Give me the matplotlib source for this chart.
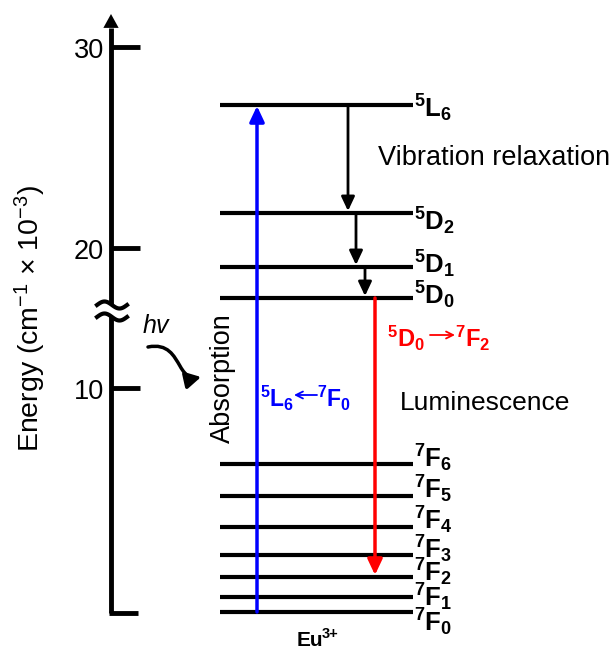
import matplotlib
matplotlib.use("Agg")
import matplotlib.pyplot as plt
import numpy as np
from matplotlib.path import Path
from matplotlib.patches import FancyArrowPatch, Polygon

plt.rcParams['font.family'] = ['Liberation Sans', 'DejaVu Sans']
plt.rcParams['mathtext.fontset'] = 'custom'
plt.rcParams['mathtext.rm'] = 'Liberation Sans'
plt.rcParams['mathtext.it'] = 'Liberation Sans:italic'
plt.rcParams['mathtext.bf'] = 'Liberation Sans:bold'

# ---- data (schematic diagram units, y grows downward) ----
tick_labels = ['30', '20', '10']
tick_pos = [47, 248, 388]
level_terms = ['7F0', '7F1', '7F2', '7F3', '7F4', '7F5', '7F6',
               '5D0', '5D1', '5D2', '5L6']
level_pos = [612, 597, 577, 555, 527, 496, 464, 298, 267, 213, 105]
label_offsets = [10, 0, -5, -6, -7, -7, -6, -3, -3, 8, 3]
relax_x = [348, 356, 365]
relax_from = ['5L6', '5D2', '5D1']
relax_to = ['5D2', '5D1', '5D0']

lv = dict(zip(level_terms, level_pos))
HEAD = '-|>,head_length=0.85,head_width=0.4'


def term_tex(t):
    return r'$^{\mathbf{%s}}\mathbf{%s}_{\mathbf{%s}}$' % (t[0], t[1], t[2])


fig = plt.figure(figsize=(6.13, 6.51), dpi=100)
ax = fig.add_axes([0, 0, 1, 1])
ax.set_xlim(0, 613)
ax.set_ylim(651, 0)
ax.axis('off')

# ---- energy axis ----
ax.plot([111, 111], [613, 28], color='black', lw=3.5, solid_capstyle='butt')
ax.plot([109.3, 138], [613, 613], color='black', lw=3.5, solid_capstyle='butt')
ax.add_patch(FancyArrowPatch((111, 30), (111, 14), arrowstyle='-|>,head_length=1.0,head_width=0.55',
                             mutation_scale=10, color='black', lw=0, shrinkA=0, shrinkB=0))
for lab, y in zip(tick_labels, tick_pos):
    ax.plot([111, 140], [y, y], color='black', lw=3.5, solid_capstyle='butt')
    ax.text(104, y + 4, lab, ha='right', va='center', fontsize=19.5)

# axis break
xb = np.linspace(97, 127, 60)
w = -3.5 * np.sin((xb - 97) / 30 * 2 * np.pi)
y1 = 305 + w
y2 = 317 + w
ax.add_patch(Polygon(np.column_stack([np.r_[xb, xb[::-1]], np.r_[y1, y2[::-1]]]),
                     closed=True, facecolor='white', edgecolor='none', zorder=3))
ax.plot(xb, y1, color='black', lw=3, zorder=4)
ax.plot(xb, y2, color='black', lw=3, zorder=4)

ax.text(30, 318, r'Energy (cm$^{-1}$ $\times$ 10$^{-3}$)', rotation=90,
        ha='center', va='center', fontsize=20.5)

# ---- energy levels ----
for t, y, off in zip(level_terms, level_pos, label_offsets):
    ax.plot([220, 413], [y, y], color='black', lw=3, solid_capstyle='butt')
    ax.text(414, y + off, term_tex(t), ha='left', va='center', fontsize=18.5)

# absorption (blue)
ax.add_patch(FancyArrowPatch((257, lv['7F0']), (257, lv['5L6'] + 1),
                             arrowstyle=HEAD, mutation_scale=11, color='#0000ff', lw=2.5,
                             shrinkA=0, shrinkB=0, zorder=5))
# relaxation (black)
for x, a, b in zip(relax_x, relax_from, relax_to):
    ax.add_patch(FancyArrowPatch((x, lv[a]), (x, lv[b] - 2),
                                 arrowstyle=HEAD, mutation_scale=10, color='black', lw=2,
                                 shrinkA=0, shrinkB=0, zorder=5))
# luminescence (red)
ax.add_patch(FancyArrowPatch((375, lv['5D0']), (375, lv['7F2'] - 2),
                             arrowstyle=HEAD, mutation_scale=11, color='#ff0000', lw=2.5,
                             shrinkA=0, shrinkB=0, zorder=5))

# ---- texts ----
ax.text(378, 158, 'Vibration relaxation', ha='left', va='center', fontsize=19.5)
ax.text(400, 403, 'Luminescence', ha='left', va='center', fontsize=19)
ax.text(223, 378, 'Absorption', rotation=90, ha='center', va='center', fontsize=19.5)
ax.text(142, 326, r'$\it{hv}$', ha='left', va='center', fontsize=18)

# transition labels: term symbols with a thin arrow between
BLUE, RED = '#0000ff', '#ff0000'
ax.text(260, 398, term_tex('5L6'), ha='left', va='center', fontsize=16.5, color=BLUE)
ax.add_patch(FancyArrowPatch((317, 395), (294, 395), arrowstyle='->,head_length=0.5,head_width=0.25',
                             mutation_scale=10, color=BLUE, lw=1.3, shrinkA=0, shrinkB=0))
ax.text(317, 398, term_tex('7F0'), ha='left', va='center', fontsize=16.5, color=BLUE)

ax.text(387, 338, term_tex('5D0'), ha='left', va='center', fontsize=17, color=RED)
ax.add_patch(FancyArrowPatch((430, 335), (455, 335), arrowstyle='->,head_length=0.5,head_width=0.25',
                             mutation_scale=10, color=RED, lw=1.3, shrinkA=0, shrinkB=0))
ax.text(455, 338, term_tex('7F2'), ha='left', va='center', fontsize=17, color=RED)

ax.text(297, 641, 'Eu', ha='left', va='center', fontsize=15, fontweight='bold')
ax.text(322, 634, '3+', ha='left', va='center', fontsize=10.5, fontweight='bold')

# hv curvy arrow
verts = [(148, 347), (168, 343), (174, 356), (180, 366), (186, 377), (192, 379), (201, 377)]
codes = [Path.MOVETO, Path.CURVE4, Path.CURVE4, Path.CURVE4, Path.CURVE4, Path.CURVE4, Path.CURVE4]
ax.add_patch(FancyArrowPatch(path=Path(verts, codes),
                             arrowstyle='-|>,head_length=0.9,head_width=0.5',
                             mutation_scale=10, color='black', lw=2.5))

fig.savefig('out.png', dpi=100)
